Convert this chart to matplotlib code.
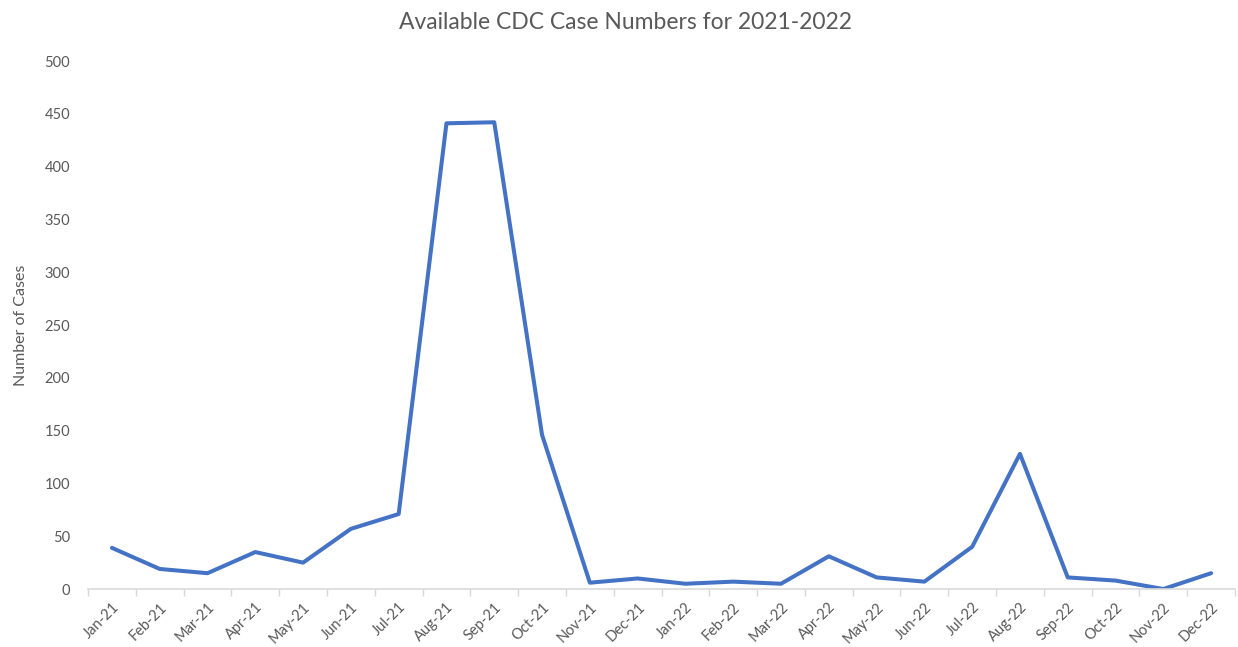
import matplotlib
matplotlib.use("Agg")
import matplotlib.pyplot as plt

months = ["Jan-21", "Feb-21", "Mar-21", "Apr-21", "May-21", "Jun-21", "Jul-21",
          "Aug-21", "Sep-21", "Oct-21", "Nov-21", "Dec-21", "Jan-22", "Feb-22",
          "Mar-22", "Apr-22", "May-22", "Jun-22", "Jul-22", "Aug-22", "Sep-22",
          "Oct-22", "Nov-22", "Dec-22"]
cases = [39, 19, 15, 35, 25, 57, 71, 441, 442, 146, 6, 10, 5, 7, 5, 31, 11, 7,
         40, 128, 11, 8, 0, 15]
y_ticks = [0, 50, 100, 150, 200, 250, 300, 350, 400, 450, 500]

text_color = "#595959"
plt.rcParams["font.family"] = ["Lato", "DejaVu Sans"]

fig = plt.figure(figsize=(12.38, 6.47), dpi=100)
ax = fig.add_axes([0.0711, 0.0896, 0.9265, 0.8161])

x = list(range(len(months)))
ax.plot(x, cases, color="#4472C4", linewidth=2.9, solid_joinstyle="round",
        solid_capstyle="round")

ax.set_xlim(-0.5, len(months) - 0.5)
ax.set_ylim(0, 500)
ax.set_yticks(y_ticks)
ax.set_yticklabels([str(v) for v in y_ticks])
ax.tick_params(axis="y", length=0, pad=13, labelsize=10.5, labelcolor=text_color)

# category labels at centers, tick marks at category boundaries
ax.set_xticks(x)
ax.set_xticklabels(months, rotation=45, ha="right", rotation_mode="anchor")
ax.tick_params(axis="x", which="major", length=0, pad=8, labelsize=10.5,
               labelcolor=text_color)
ax.set_xticks([i - 0.5 for i in range(len(months) + 1)], minor=True)
ax.tick_params(axis="x", which="minor", length=5, width=1, color="#D9D9D9",
               direction="out")

for side in ("top", "right", "left"):
    ax.spines[side].set_visible(False)
ax.spines["bottom"].set_color("#D9D9D9")
ax.spines["bottom"].set_linewidth(1.2)

ax.set_ylabel("Number of Cases", fontsize=11.5, color=text_color, labelpad=12)
fig.suptitle("Available CDC Case Numbers for 2021-2022", fontsize=16.5,
             color=text_color, y=0.982, x=0.505)

fig.savefig("out.png", dpi=100)
